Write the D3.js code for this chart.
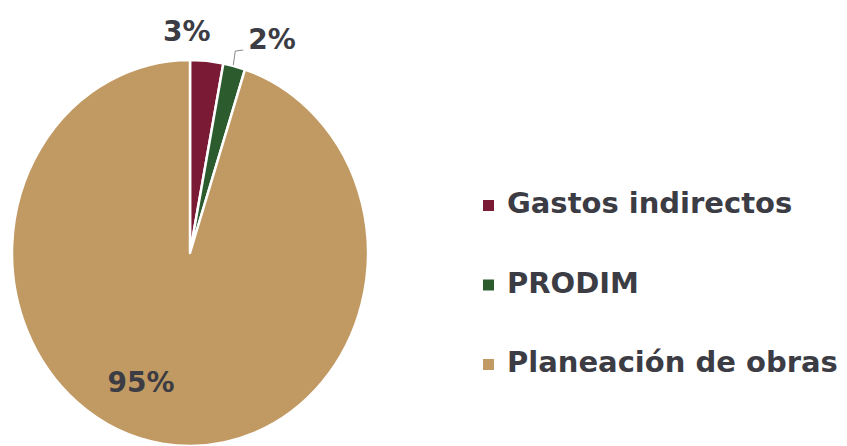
<!DOCTYPE html>
<html>
<head>
<meta charset="utf-8">
<script src="https://cdn.jsdelivr.net/npm/d3@7"></script>
<style>
    body { margin: 0; background: #fff; }
    svg { display: block; }
    text { font-family: "DejaVu Sans", sans-serif; font-weight: bold; fill: #3c3c44; }
</style>
</head>
<body>
<div id="chart"></div>
<script>
"use strict";

const categories = ["Gastos indirectos", "PRODIM", "Planeación de obras"];
const values = [3, 2, 95];
const labels = ["3%", "2%", "95%"];
const colors = ["#7b1a35", "#2c5c2e", "#c19962"];

(function () {
    const width = 847;
    const height = 446;

    // pie is a little taller than wide in the picture
    const cx = 190, cy = 253;
    const rx = 178, ry = 193;

    const svg = d3.select("#chart")
        .append("svg")
        .attr("width", width)
        .attr("height", height);

    const pie = d3.pie().sort(null).value(d => d.value);
    const arcs = pie(categories.map((c, i) => ({ name: c, value: values[i], color: colors[i], label: labels[i] })));

    const arc = d3.arc().innerRadius(0).outerRadius(rx);

    const pieG = svg.append("g")
        .attr("transform", `translate(${cx},${cy}) scale(1,${ry / rx})`);

    pieG.selectAll("path")
        .data(arcs)
        .enter()
        .append("path")
        .attr("d", arc)
        .attr("fill", d => d.data.color)
        .attr("stroke", "#fff")
        .attr("stroke-width", 2.5)
        .attr("stroke-linejoin", "round")
        .attr("vector-effect", "non-scaling-stroke");

    // point on the ellipse edge for a given angle
    function edge(a, k) {
        return [cx + Math.sin(a) * rx * k, cy - Math.cos(a) * ry * k];
    }

    // 3% above its slice
    const a0 = (arcs[0].startAngle + arcs[0].endAngle) / 2;
    const p0 = edge(a0, 1);
    svg.append("text")
        .attr("x", p0[0] - 20)
        .attr("y", p0[1] - 20)
        .attr("text-anchor", "middle")
        .attr("font-size", 28)
        .text(arcs[0].data.label);

    // 2% with a small leader line
    const a1 = (arcs[1].startAngle + arcs[1].endAngle) / 2;
    const p1 = edge(a1, 1);
    svg.append("path")
        .attr("d", `M${p1[0] - 1},${p1[1] - 1} L${p1[0] + 1},${p1[1] - 15} L${p1[0] + 9},${p1[1] - 16}`)
        .attr("fill", "none")
        .attr("stroke", "#8a8a8a")
        .attr("stroke-width", 1);
    svg.append("text")
        .attr("x", p1[0] + 14)
        .attr("y", p1[1] - 17)
        .attr("font-size", 28)
        .text(arcs[1].data.label);

    // 95% inside
    svg.append("text")
        .attr("x", 141)
        .attr("y", 392)
        .attr("text-anchor", "middle")
        .attr("font-size", 28)
        .text(arcs[2].data.label);

    // legend
    const legend = svg.append("g").attr("transform", "translate(483,0)");
    const ly = d3.scalePoint().domain(categories).range([213, 372]);

    const item = legend.selectAll("g")
        .data(categories)
        .enter()
        .append("g")
        .attr("transform", d => `translate(0,${ly(d)})`);

    item.append("rect")
        .attr("x", 0)
        .attr("y", -13)
        .attr("width", 11)
        .attr("height", 11)
        .attr("fill", (d, i) => colors[i]);

    item.append("text")
        .attr("x", 24)
        .attr("y", 0)
        .attr("font-size", 29)
        .text(d => d);
})();
</script>
</body>
</html>
